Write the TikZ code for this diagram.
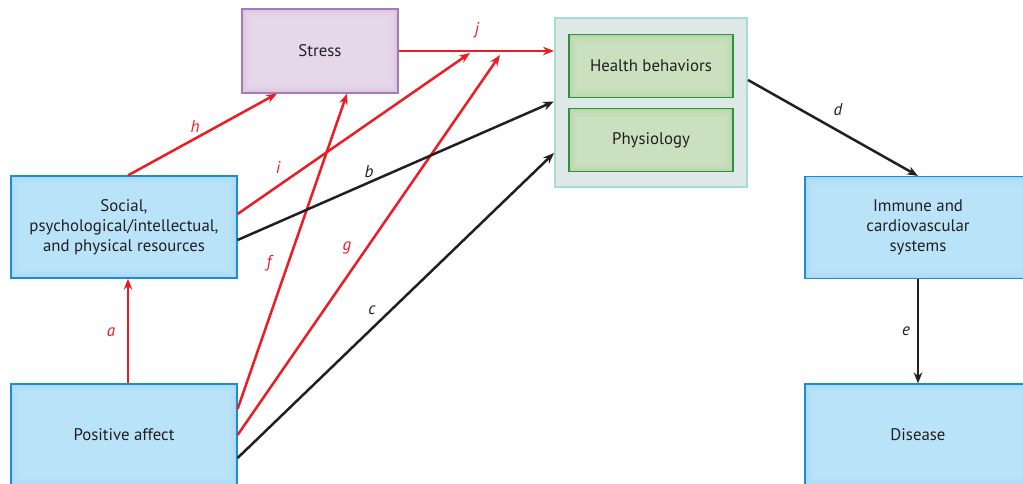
\documentclass[tikz,border=0pt]{standalone}
\usepackage{fontspec}
\setmainfont{PT Sans}
\usetikzlibrary{arrows.meta}
\definecolor{txt}{HTML}{231F20}
\definecolor{redc}{HTML}{ED1C24}
\definecolor{blkc}{HTML}{231F20}
\definecolor{bluefill}{HTML}{B9E3F8}
\definecolor{blueline}{HTML}{1F8CD2}
\definecolor{blueglow}{HTML}{6FB9E6}
\definecolor{purfill}{HTML}{E7D7EA}
\definecolor{purline}{HTML}{A57BB6}
\definecolor{purglow}{HTML}{B58CC4}
\definecolor{tealfill}{HTML}{DEE8E6}
\definecolor{tealline}{HTML}{A6DCD3}
\definecolor{grnfill}{HTML}{CBE0BF}
\definecolor{grnline}{HTML}{2E9140}
\definecolor{grnglow}{HTML}{7FB66F}
\tikzset{
  glow/.style={path picture={
    \foreach \i/\o in {1/0.22,3/0.14,5/0.08,7/0.04}{
      \draw[line width=2pt, draw=#1, opacity=\o]
        ([shift={(\i pt,-\i pt)}]path picture bounding box.north west) rectangle
        ([shift={(-\i pt,\i pt)}]path picture bounding box.south east);}
  }},
  box/.style={rectangle, fill=bluefill, draw=blueline, line width=1.2pt, glow=blueglow,
    align=center, text=txt, font=\fontsize{16.8}{20}\selectfont,
    minimum width=226pt, minimum height=102pt, inner sep=2pt},
  stressbox/.style={box, fill=purfill, draw=purline, glow=purglow,
    minimum width=156pt, minimum height=84pt},
  outerbox/.style={rectangle, fill=tealfill, draw=tealline, line width=2pt,
    minimum width=192pt, minimum height=169pt},
  grnbox/.style={box, fill=grnfill, draw=grnline, glow=grnglow,
    minimum width=164pt, minimum height=63pt},
  redarr/.style={draw=redc, line width=2.5pt, -{Stealth[length=11pt,width=8.5pt]}},
  blkarr/.style={draw=blkc, line width=2.5pt, -{Stealth[length=11pt,width=8.5pt]}},
  lbl/.style={font=\fontsize{17}{18}\selectfont\itshape, inner sep=0pt},
}
\begin{document}
\begin{tikzpicture}[x=1pt,y=-1pt]
\useasboundingbox (0,0) rectangle (1023,483);
\clip (0,0) rectangle (1023,483);
% nodes
\node[box] (soc) at (124,227) {Social,\\psychological/intellectual,\\and physical resources};
\node[box] (pos) at (124,435) {Positive affect};
\node[stressbox] (str) at (320,51) {Stress};
\node[outerbox] (out) at (651,102.5) {};
\node[grnbox] (hb) at (651,66) {Health behaviors};
\node[grnbox] (phy) at (651,140) {Physiology};
\node[box] (imm) at (918,227.5) {Immune and\\cardiovascular\\systems};
\node[box] (dis) at (918,435) {Disease};
% points on the j arrow
\coordinate (ji) at (470,53);
\coordinate (jg) at (500,55);
% red arrows
\draw[redarr] (str.east) -- ([yshift=51.5pt]out.west);
\draw[redarr] ([xshift=4pt]pos.north) -- ([xshift=4pt]soc.south);
\draw[redarr] ([xshift=4pt]soc.north) -- ([xshift=-43pt]str.south);
\draw[redarr] ([yshift=13pt]soc.east) -- (ji);
\draw[redarr] ([yshift=26pt]pos.east) -- ([xshift=27pt]str.south);
\draw[redarr] (pos.east) -- (jg);
% black arrows
\draw[blkarr] ([yshift=-13pt]soc.east) -- ([yshift=1pt]out.west);
\draw[blkarr] ([yshift=-23pt]pos.east) -- ([yshift=-50.5pt]out.west);
\draw[blkarr] ([yshift=22.5pt]out.east) -- (imm.north);
\draw[blkarr] (imm.south) -- (dis.north);
% labels
\node[lbl, text=redc] (lj) at (477,30) {j};
\node[lbl, text=redc] (la) at (111,332) {a};
\node[lbl, text=redc] (lh) at (195,127) {h};
\node[lbl, text=redc] (li) at (278,167) {i};
\node[lbl, text=redc] (lf) at (269,263) {f};
\node[lbl, text=redc] (lg) at (347,248) {g};
\node[lbl, text=blkc] (lb) at (369,172) {b};
\node[lbl, text=blkc] (lc) at (372,310) {c};
\node[lbl, text=blkc] (ld) at (838,110) {d};
\node[lbl, text=blkc] (le) at (906,331) {e};
\end{tikzpicture}
\end{document}
